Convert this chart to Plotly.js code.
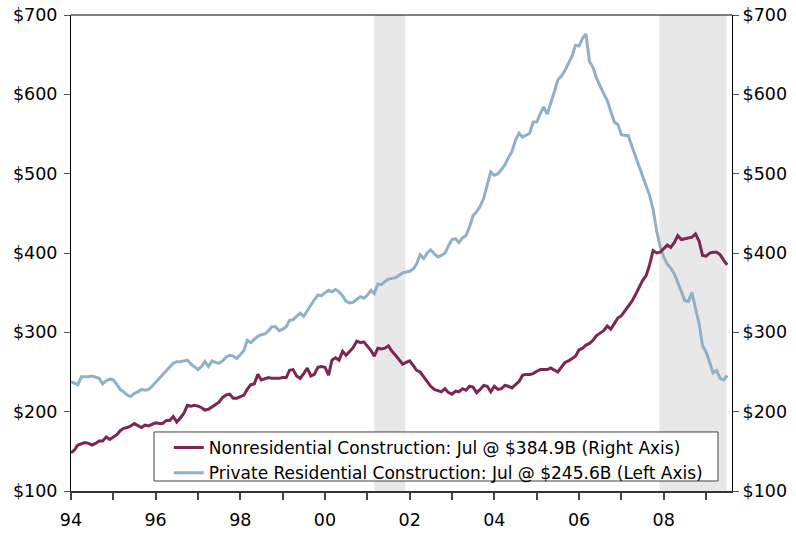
<!DOCTYPE html>
<html>
<head>
<meta charset="utf-8">
<script src="https://cdn.plot.ly/plotly-3.0.1.min.js"></script>
<style>
html,body{margin:0;padding:0;background:#fff;}
#chart{width:796px;height:533px;}
</style>
</head>
<body>
<div id="chart"></div>
<script>
// Monthly, Jan 1994 .. Jul 2009
var startYear = 1994;
var nonresName = "Nonresidential Construction: Jul @ $384.9B (Right Axis)";
var resName = "Private Residential Construction: Jul @ $245.6B (Left Axis)";

var nonres = [
  148,152,158,160,161,160,158,160,163,163,168,165,
  168,171,176,179,180,182,185,182,180,183,182,184,
  186,185,185,189,189,194,187,192,198,208,207,208,
  207,205,202,203,206,208,212,218,221,222,217,217,
  219,221,228,234,235,247,240,242,243,242,242,242,
  243,243,252,253,245,242,248,255,245,247,256,257,
  256,246,265,268,265,276,271,276,281,289,287,288,
  282,277,270,280,279,280,283,276,271,266,260,262,
  264,258,252,250,244,237,232,228,226,225,229,224,
  222,226,225,229,227,232,231,224,228,233,232,225,
  232,228,229,233,232,230,234,238,246,247,247,248,
  251,253,253,253,255,252,250,256,262,264,267,270,
  278,280,284,286,290,296,299,302,308,304,311,318,
  321,327,333,339,347,356,365,371,385,403,400,401,
  406,410,407,413,422,417,418,419,420,424,415,397,
  396,400,401,401,398,391,384.9
];

var residential = [
  238,236,234,244,244,244,245,243,242,235,239,241,
  240,234,228,225,221,219,223,225,228,227,228,232,
  237,242,246,251,256,261,263,263,264,265,260,256,
  253,257,263,257,264,262,261,264,269,271,270,267,
  272,277,290,287,291,295,297,298,302,307,307,302,
  304,307,315,316,320,324,320,327,335,341,347,346,
  350,353,351,354,351,346,339,337,338,342,345,343,
  347,353,349,361,360,364,367,368,369,372,375,376,
  377,380,386,398,393,400,404,399,395,397,400,409,
  417,418,413,419,422,433,447,452,459,469,485,502,
  498,500,505,511,520,528,542,551,546,549,551,565,
  565,576,584,575,588,603,618,623,630,640,648,662,
  661,671,676,641,634,620,610,601,592,580,565,562,
  549,548,548,535,522,510,497,485,473,455,428,408,
  395,386,381,374,363,352,340,339,350,330,311,283,
  275,262,249,252,242,240,245.6
];

var recessionStart = ["2001-03-01", "2007-11-25"];
var recessionEnd   = ["2001-11-25", "2009-06-25"];

var yTickVals = [100,200,300,400,500,600,700];
var yTickText = ["$100","$200","$300","$400","$500","$600","$700"];
var xTickVals = ["1994-01-01","1996-01-01","1998-01-01","2000-01-01","2002-01-01","2004-01-01","2006-01-01","2008-01-01"];
var xTickText = ["94","96","98","00","02","04","06","08"];

function pad(n){return n<10?"0"+n:""+n;}
var dates = [];
for (var i = 0; i < nonres.length; i++) {
  var y = startYear + Math.floor(i/12), m = (i%12)+1;
  dates.push(y + "-" + pad(m) + "-01");
}

var maroon = "#7E2552";
var blue = "#8FB1C8";
var font = "DejaVu Sans, Verdana, sans-serif";

var traces = [
  {x: dates, y: nonres, name: nonresName, yaxis: "y2", type: "scatter", mode: "lines",
   line: {color: maroon, width: 3}},
  {x: dates, y: residential, name: resName, yaxis: "y", type: "scatter", mode: "lines",
   line: {color: blue, width: 3}}
];

var shapes = recessionStart.map(function(s, k){
  return {type: "rect", xref: "x", yref: "paper", x0: s, x1: recessionEnd[k], y0: 0, y1: 1,
          fillcolor: "#E8E8E8", line: {width: 0}, layer: "below"};
});
// legend frame
shapes.push({type: "rect", xref: "paper", yref: "paper", x0: 0.1256, x1: 0.9788, y0: 0.021, y1: 0.124,
             fillcolor: "#fff", line: {color: "#404040", width: 1}, layer: "above"});
// top border
shapes.push({type: "line", xref: "paper", yref: "paper", x0: 0, x1: 1, y0: 1, y1: 1,
             line: {color: "#000", width: 1}});

var yAxisCommon = {
  range: [100, 700], tickvals: yTickVals, ticktext: yTickText,
  showgrid: false, zeroline: false, ticks: "outside", ticklen: 6, tickwidth: 1,
  tickcolor: "#555", showline: true, linecolor: "#000", linewidth: 1,
  tickfont: {family: font, size: 17.5, color: "#000"}, fixedrange: true
};

var layout = {
  width: 796, height: 533,
  margin: {l: 71, r: 64, t: 15, b: 42},
  paper_bgcolor: "#fff", plot_bgcolor: "#fff",
  showlegend: true,
  legend: {x: 0.148, y: 0.128, xanchor: "left", yanchor: "top",
           borderwidth: 0, bgcolor: "rgba(0,0,0,0)",
           font: {family: font, size: 17, color: "#000"}, tracegroupgap: 0},
  xaxis: {
    type: "date", range: ["1994-01-01", "2009-08-12"],
    tickvals: xTickVals, ticktext: xTickText,
    ticks: "outside", ticklen: 7, tickwidth: 2, tickcolor: "#444",
    minor: {dtick: "M12", tick0: "1994-01-01", ticks: "outside", ticklen: 7, tickwidth: 2, tickcolor: "#444", showgrid: false},
    showgrid: false, zeroline: false, showline: true, linecolor: "#333", linewidth: 2,
    ticklabelstandoff: 5,
    tickfont: {family: font, size: 17.5, color: "#000"}
  },
  yaxis: Object.assign({}, yAxisCommon, {side: "left", ticklabelstandoff: 3}),
  yaxis2: Object.assign({}, yAxisCommon, {side: "right", overlaying: "y"}),
  shapes: shapes
};

Plotly.newPlot("chart", traces, layout, {displayModeBar: false, staticPlot: true});
</script>
</body>
</html>
